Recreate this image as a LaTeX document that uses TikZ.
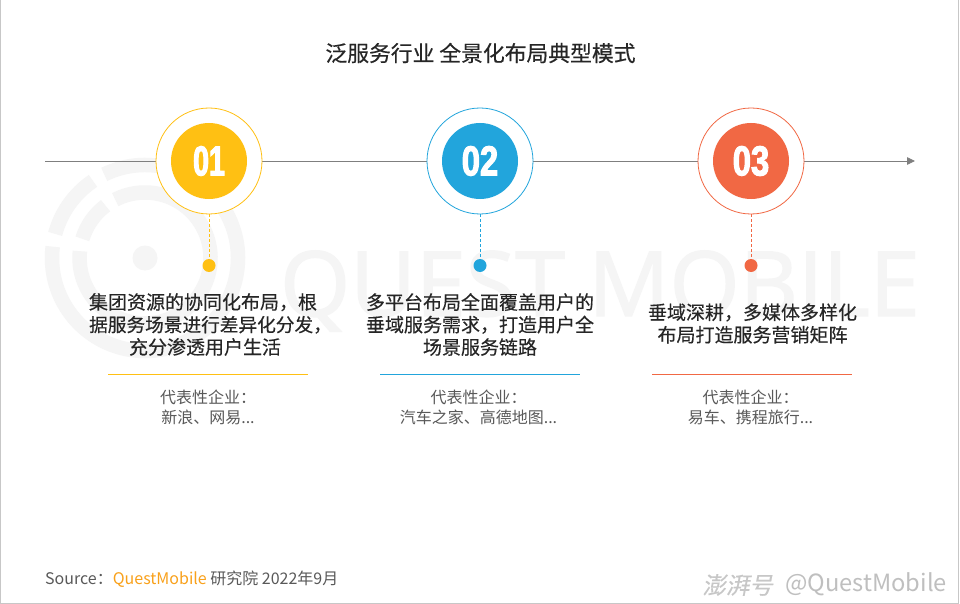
\documentclass[tikz,border=0pt]{standalone}
\usepackage{fontspec}
\usetikzlibrary{arrows.meta}
\setmainfont{Noto Sans CJK SC}
\newfontfamily\headfont[FakeBold=0.35]{Noto Sans CJK SC}
\newfontfamily\numfont[FakeStretch=0.68,FakeBold=2.4]{Liberation Sans Bold}
\newfontfamily\numwide[FakeStretch=0.78,FakeBold=2.4]{Liberation Sans Bold}
\newfontfamily\wmfont[FakeBold=1.6]{Open Sans}
\definecolor{axisgray}{HTML}{7F7F7F}
\definecolor{wmgray}{HTML}{F5F5F5}
\definecolor{ca}{HTML}{FFC013}
\definecolor{cb}{HTML}{22A5DC}
\definecolor{cc}{HTML}{F16844}
\definecolor{darktext}{HTML}{262626}
\definecolor{midtext}{HTML}{595959}
\definecolor{qm}{HTML}{F9A11B}
\tikzset{
  x=1pt,y=-1pt,
  ringout/.style={circle,draw=#1,line width=0.8pt,fill=white,minimum size=106pt,inner sep=0pt},
  ringin/.style={circle,fill=#1,minimum size=76pt,inner sep=0pt,text=white,font=\numfont\fontsize{42}{42}\selectfont},
  pin/.style={circle,fill=#1,minimum size=13pt,inner sep=0pt},
  stem/.style={draw=#1,line width=0.7pt,densely dashed},
  headtext/.style={text=darktext,align=center,inner sep=0pt,font=\headfont\fontsize{19}{22.5}\selectfont},
  subtext/.style={text=midtext,align=center,inner sep=0pt,font=\fontsize{16}{20}\selectfont},
  rule/.style={draw=#1,line width=0.8pt},
  wmarc/.style={draw=wmgray,line width=14.5pt},
}
\begin{document}
\begin{tikzpicture}
\useasboundingbox (0,0) rectangle (960,604);
\fill[white] (0,0) rectangle (960,604);
% watermark
\fill[wmgray] (145,258) circle (12.5);
\draw[wmarc] (145,258) ++(-116:93) arc[start angle=-116,end angle=187,radius=93];
\draw[wmarc] (145,258) ++(-124:93) arc[start angle=-124,end angle=-165,radius=93];
\draw[wmarc] (145,258) ++(-117:65.5) arc[start angle=-117,end angle=186,radius=65.5];
\draw[wmarc] (145,258) ++(-127:65.5) arc[start angle=-127,end angle=-163,radius=65.5];
\node[anchor=center,text=wmgray,inner sep=0pt] (wm) at (600,291) {\wmfont\fontsize{90}{90}\selectfont QUEST MOBILE};
% frame
\draw[draw=black!22,line width=1.2pt] (0.6,-2) -- (0.6,603.2) -- (958.6,603.2) -- (958.6,-2);
% title
\node[text=darktext,inner sep=0pt,font=\headfont\fontsize{21.8}{24}\selectfont] (title) at (480.5,53) {泛服务行业 全景化布局典型模式};
% axis
\coordinate (axstart) at (45,161);
\coordinate (axend) at (915,161);
\draw[axisgray,line width=0.8pt,-{Triangle[length=8pt,width=7.5pt]}] (axstart) -- (axend);
% column 1
\node[ringout=ca] (o1) at (209,161) {};
\node[ringin=ca] (i1) at (209,161) {01};
\node[pin=ca] (p1) at (209,265.5) {};
\draw[stem=ca] (o1) -- (p1);
\node[headtext] (h1) at (205,324.5) {集团资源的协同化布局，根\hspace*{4pt}\\\hspace*{11pt}{\fontsize{18.67}{22.5}\selectfont 据服务场景进行差异化分发，}\\充分渗透用户生活};
\coordinate (r1a) at (108,374.5); \coordinate (r1b) at (308,374.5);
\draw[rule=ca] (r1a) -- (r1b);
\node[subtext] (s1) at (208,407) {代表性企业：\\新浪、网易...};
% column 2
\node[ringout=cb] (o2) at (480,161) {};
\node[ringin=cb] (i2) at (480,161) {\numwide 02};
\node[pin=cb] (p2) at (480,265.5) {};
\draw[stem=cb] (o2) -- (p2);
\node[headtext] (h2) at (480,324.5) {多平台布局全面覆盖用户的\\垂域服务需求，打造用户全\\场景服务链路};
\coordinate (r2a) at (380,374.5); \coordinate (r2b) at (580,374.5);
\draw[rule=cb] (r2a) -- (r2b);
\node[subtext] (s2) at (478.5,407) {代表性企业：\\汽车之家、高德地图...};
% column 3
\node[ringout=cc] (o3) at (751,161) {};
\node[ringin=cc] (i3) at (751,161) {\numwide 03};
\node[pin=cc] (p3) at (751,265.5) {};
\draw[stem=cc] (o3) -- (p3);
\node[headtext] (h3) at (752.5,323.5) {垂域深耕，多媒体多样化\\布局打造服务营销矩阵};
\coordinate (r3a) at (652,374.5); \coordinate (r3b) at (852,374.5);
\draw[rule=cc] (r3a) -- (r3b);
\node[subtext] (s3) at (750.5,407) {代表性企业：\\易车、携程旅行...};
% source
\node[anchor=west,inner sep=0pt,text=midtext,font=\fontsize{16}{18}\selectfont] (src) at (45,579) {Source：\textcolor{qm}{QuestMobile} 研究院 2022年9月};
% stamp
\node[anchor=west,inner sep=0pt,text=black!22,font=\headfont\fontsize{23.5}{28}\selectfont,xslant=0.2] (st1) at (704,585) {澎湃号};
\node[anchor=west,inner sep=0pt,text=black!25,font=\fontsize{23.7}{24}\selectfont] (st2) at (785,584) {@QuestMobile};
\end{tikzpicture}
\end{document}
